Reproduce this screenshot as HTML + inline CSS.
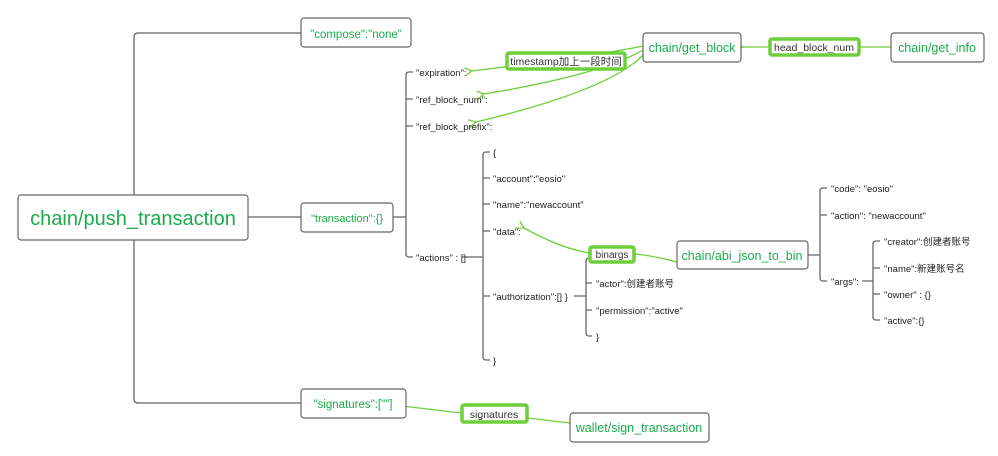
<!DOCTYPE html>
<html><head><meta charset="utf-8"><style>
html,body{margin:0;padding:0;background:#fff;width:998px;height:456px;overflow:hidden}
svg{display:block}
text{font-family:"Liberation Sans","Noto Sans CJK SC",sans-serif}
.g{fill:#1aab4b}
.s{font-size:9.5px;fill:#222}
</style></head><body>
<svg width="998" height="456" viewBox="0 0 998 456" xmlns="http://www.w3.org/2000/svg">
<defs><marker id="a" markerWidth="10" markerHeight="10" refX="1" refY="5" orient="auto" markerUnits="userSpaceOnUse"><path d="M8,1 L1,5 L8,9" fill="none" stroke="#6fcf3a" stroke-width="1.3"/></marker></defs>
<g fill="none" stroke="#666" stroke-width="1.3">
<!-- trunk -->
<path d="M301,33 H138 Q134,33 134,37 V195 M134,240 V399 Q134,403 138,403 H301"/>
<path d="M248,217 H301"/>
<!-- transaction bracket -->
<path d="M393,217 H406 M413,72 H409 Q406,72 406,75 V254 Q406,257 409,257 H413 M406,99 H413 M406,126 H413"/>
<!-- actions bracket -->
<path d="M462,257 H483 M490,152 H486 Q483,152 483,155 V357 Q483,360 486,360 H490 M483,178 H490 M483,204 H490 M483,231 H490 M483,296 H490"/>
<!-- authorization bracket -->
<path d="M574,296 H586 M592,258 H589 Q586,258 586,261 V333 Q586,336 589,336 H592 M586,283 H592 M586,310 H592"/>
<!-- abi bracket -->
<path d="M808,255 H820 M827,188 H823 Q820,188 820,191 V278 Q820,281 823,281 H827 M820,215 H827"/>
<!-- args bracket -->
<path d="M862,281 H873 M880,241 H876 Q873,241 873,244 V317 Q873,320 876,320 H880 M873,268 H880 M873,294 H880"/>
</g>
<!-- green connectors -->
<g fill="none" stroke="#6fcf3a" stroke-width="1.3">
<path d="M643,46 Q600,55 472,71" marker-end="url(#a)"/>
<path d="M643,50 Q600,75 484,94" marker-end="url(#a)"/>
<path d="M643,55 Q610,90 476,122" marker-end="url(#a)"/>
<path d="M769,47 H743" marker-end="url(#a)"/>
<path d="M891,47 H859"/>
<path d="M677,262 Q650,255 634,254"/>
<path d="M589,253 Q560,248 524,228" marker-end="url(#a)"/>
<path d="M570,423 L527,418"/>
<path d="M461,413 L402,406" marker-end="url(#a)"/>
</g>
<!-- boxes -->
<g fill="#fff" stroke="#666" stroke-width="1.2">
<rect x="18" y="195" width="230" height="45" rx="3"/>
<rect x="301" y="18" width="110" height="29" rx="3"/>
<rect x="301" y="203" width="92" height="29" rx="3"/>
<rect x="301" y="389" width="105" height="29" rx="3"/>
<rect x="643" y="33" width="98" height="29" rx="3"/>
<rect x="891" y="33" width="93" height="29" rx="3"/>
<rect x="677" y="241" width="131" height="28" rx="3"/>
<rect x="570" y="413" width="139" height="29" rx="3"/>
</g>
<g fill="#fff" stroke="#6fcf3a" stroke-width="3.5">
<rect x="507" y="53" width="118" height="16" rx="2"/>
<rect x="770" y="39" width="89" height="16" rx="2"/>
<rect x="590" y="247" width="44" height="15" rx="2"/>
<rect x="462" y="405" width="65" height="17" rx="2"/>
</g>
<text x="133" y="225" font-size="20" class="g" text-anchor="middle">chain/push_transaction</text>
<text x="356" y="38" font-size="11.5" class="g" text-anchor="middle">"compose":"none"</text>
<text x="347" y="222" font-size="11" class="g" text-anchor="middle">"transaction":{}</text>
<text x="353" y="408" font-size="11.5" class="g" text-anchor="middle">"signatures":[""]</text>
<text x="692" y="52" font-size="12.5" class="g" text-anchor="middle">chain/get_block</text>
<text x="937" y="52" font-size="12.5" class="g" text-anchor="middle">chain/get_info</text>
<text x="742" y="260" font-size="12.5" class="g" text-anchor="middle">chain/abi_json_to_bin</text>
<text x="639" y="432" font-size="12.5" class="g" text-anchor="middle">wallet/sign_transaction</text>
<text x="566" y="65" font-size="10.5" fill="#333" text-anchor="middle">timestamp加上一段时间</text>
<text x="814" y="51" font-size="10.5" fill="#333" text-anchor="middle">head_block_num</text>
<text x="612" y="258" font-size="10" fill="#333" text-anchor="middle">binargs</text>
<text x="494" y="418" font-size="10.5" fill="#333" text-anchor="middle">signatures</text>
<g class="s">
<text x="416" y="76">"expiration":</text>
<text x="416" y="103">"ref_block_num":</text>
<text x="416" y="130">"ref_block_prefix":</text>
<text x="416" y="261">"actions" : []</text>
<text x="493" y="156">{</text>
<text x="493" y="182">"account":"eosio"</text>
<text x="493" y="208">"name":"newaccount"</text>
<text x="493" y="235">"data":</text>
<text x="493" y="300">"authorization":[]  }</text>
<text x="493" y="364">}</text>
<text x="596" y="287">"actor":创建者账号</text>
<text x="596" y="314">"permission":"active"</text>
<text x="596" y="340">}</text>
<text x="831" y="192">"code": "eosio"</text>
<text x="831" y="219">"action": "newaccount"</text>
<text x="831" y="285">"args":</text>
<text x="884" y="245">"creator":创建者账号</text>
<text x="884" y="272">"name":新建账号名</text>
<text x="884" y="298">"owner" : {}</text>
<text x="884" y="324">"active":{}</text>
</g>
</svg>
</body></html>
